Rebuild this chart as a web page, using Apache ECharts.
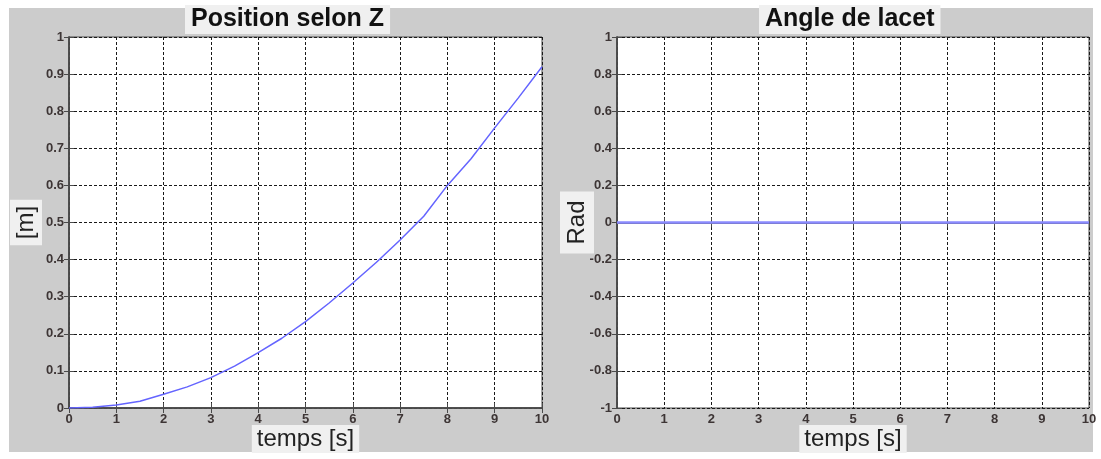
<!DOCTYPE html>
<html>
<head>
<meta charset="utf-8">
<script src="https://cdn.jsdelivr.net/npm/echarts@6/dist/echarts.min.js"></script>
<style>
  html, body { margin: 0; padding: 0; background: #ffffff; }
  #chart { width: 1101px; height: 459px; }
</style>
</head>
<body>
<div id="chart"></div>
<script>
// Time samples [s]
const timeValues = [0, 0.5, 1, 1.5, 2, 2.5, 3, 3.5, 4, 4.5, 5, 5.5, 6, 6.5, 7, 7.5, 8, 8.5, 9, 9.5, 10];
// Position along Z [m]
const positionZ = [0, 0.002, 0.008, 0.018, 0.037, 0.057, 0.082, 0.113, 0.149, 0.188, 0.233, 0.283, 0.337, 0.393, 0.453, 0.517, 0.600, 0.672, 0.755, 0.836, 0.920];
// Yaw angle [rad]
const yawAngle = [0, 0, 0, 0, 0, 0, 0, 0, 0, 0, 0, 0, 0, 0, 0, 0, 0, 0, 0, 0, 0];

const titles = ['Position selon Z', 'Angle de lacet'];
const xName = 'temps [s]';
const yNames = ['[m]', 'Rad'];
const xTicks = { min: 0, max: 10, interval: 1 };
const yTicksLeft = { min: 0, max: 1, interval: 0.1 };
const yTicksRight = { min: -1, max: 1, interval: 0.2 };

const pairs = (xs, ys) => xs.map((x, i) => [x, ys[i]]);

const labelStyle = { color: '#3d3535', fontSize: 13, fontWeight: 'bold', fontFamily: 'Liberation Sans, Arial, sans-serif' };
const gridLine = { show: true, lineStyle: { color: '#1a1a1a', type: [3, 2], width: 1 } };
const boxLine = { show: true, lineStyle: { color: '#4a4a4a', width: 1.5 } };
const innerTick = { show: true, inside: true, length: 5, lineStyle: { color: '#4a4a4a', width: 1 } };
const nameStyle = { color: '#222', fontSize: 24, fontFamily: 'Liberation Sans, Arial, sans-serif', backgroundColor: '#f0f0f0' };

function bottomAxis(gridIndex) {
  return {
    type: 'value', gridIndex, position: 'bottom',
    min: xTicks.min, max: xTicks.max, interval: xTicks.interval,
    name: xName, nameLocation: 'middle', nameGap: 17, nameMoveOverlap: false,
    nameTextStyle: Object.assign({}, nameStyle, { padding: [1, 5, 1, 5], lineHeight: 26 }),
    axisLine: boxLine, axisTick: innerTick,
    axisLabel: Object.assign({ margin: 5 }, labelStyle),
    splitLine: gridLine
  };
}
function topAxis(gridIndex) {
  return {
    type: 'value', gridIndex, position: 'top',
    min: xTicks.min, max: xTicks.max, interval: xTicks.interval,
    axisLine: boxLine, axisTick: innerTick,
    axisLabel: { show: false }, splitLine: { show: false }
  };
}
function leftAxis(gridIndex, ticks, name, gap, pad) {
  return {
    type: 'value', gridIndex, position: 'left',
    min: ticks.min, max: ticks.max, interval: ticks.interval,
    name, nameLocation: 'middle', nameGap: gap, nameRotate: 90, nameMoveOverlap: false,
    nameTextStyle: Object.assign({}, nameStyle, { padding: pad, lineHeight: 26 }),
    axisLine: boxLine, axisTick: innerTick,
    axisLabel: Object.assign({ margin: 5 }, labelStyle),
    splitLine: gridLine
  };
}
function rightAxis(gridIndex, ticks) {
  return {
    type: 'value', gridIndex, position: 'right',
    min: ticks.min, max: ticks.max, interval: ticks.interval,
    axisLine: boxLine, axisTick: innerTick,
    axisLabel: { show: false }, splitLine: { show: false }
  };
}

const chart = echarts.init(document.getElementById('chart'), null, { renderer: 'canvas' });

chart.setOption({
  backgroundColor: '#ffffff',
  animation: false,
  graphic: [{
    type: 'rect', z: -10, silent: true,
    shape: { x: 9, y: 8, width: 1084, height: 444 },
    style: { fill: '#cccccc' }
  }],
  title: [
    {
      text: titles[0], left: 185, top: 5,
      backgroundColor: '#f0f0f0', padding: [1, 6, 1, 6],
      textStyle: { fontSize: 25, fontWeight: 'bold', color: '#111', fontFamily: 'Liberation Sans, Arial, sans-serif', lineHeight: 27 }
    },
    {
      text: titles[1], left: 759, top: 5,
      backgroundColor: '#f0f0f0', padding: [1, 6, 1, 6],
      textStyle: { fontSize: 25, fontWeight: 'bold', color: '#111', fontFamily: 'Liberation Sans, Arial, sans-serif', lineHeight: 27 }
    }
  ],
  grid: [
    { left: 69, top: 37, width: 473, height: 371, show: true, backgroundColor: '#ffffff', borderColor: '#4a4a4a', borderWidth: 1 },
    { left: 617, top: 37, width: 472, height: 371, show: true, backgroundColor: '#ffffff', borderColor: '#4a4a4a', borderWidth: 1 }
  ],
  xAxis: [bottomAxis(0), topAxis(0), bottomAxis(1), topAxis(1)],
  yAxis: [
    leftAxis(0, yTicksLeft, yNames[0], 27, [3, 6, 3, 6]),
    rightAxis(0, yTicksLeft),
    leftAxis(1, yTicksRight, yNames[1], 23, [4, 9, 4, 9]),
    rightAxis(1, yTicksRight)
  ],
  series: [
    {
      type: 'line', xAxisIndex: 0, yAxisIndex: 0, showSymbol: false, smooth: false,
      data: pairs(timeValues, positionZ),
      lineStyle: { color: '#6464ff', width: 1.5 }, itemStyle: { color: '#6464ff' }
    },
    {
      type: 'line', xAxisIndex: 2, yAxisIndex: 2, showSymbol: false,
      data: pairs(timeValues, yawAngle),
      lineStyle: { color: '#8a8aff', width: 2.5 }, itemStyle: { color: '#8a8aff' }
    }
  ]
});
</script>
</body>
</html>
